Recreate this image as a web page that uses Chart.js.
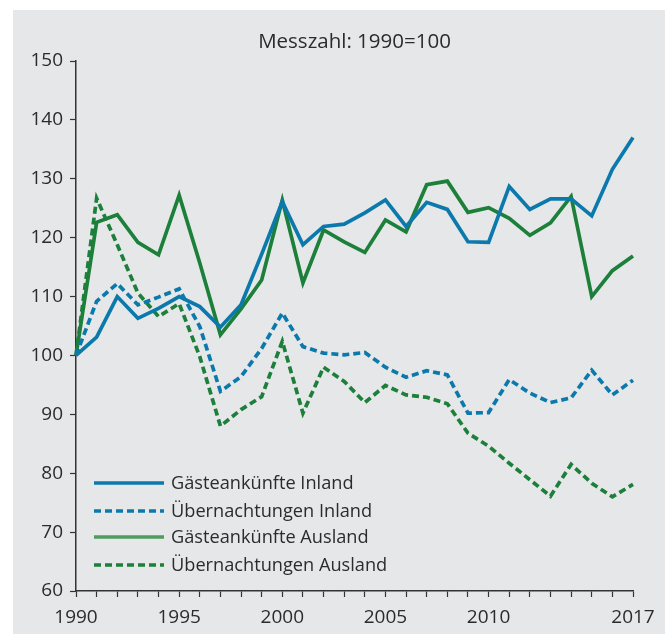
<!DOCTYPE html>
<html>
<head>
<meta charset="utf-8">
<style>
  html, body { margin: 0; padding: 0; background: #fff; }
  .wrap { position: relative; width: 665px; height: 634px; }
  .bg { position: absolute; left: 13px; top: 10px; right: 0; bottom: 0; background: #e6e7e9; }
  canvas { position: absolute; left: 0; top: 0; }
</style>
</head>
<body>
<div class="wrap">
  <div class="bg"></div>
  <canvas id="chart" width="665" height="634"></canvas>
</div>
<script src="https://cdn.jsdelivr.net/npm/chart.js@4/dist/chart.umd.min.js"></script>
<script>
const years = [1990, 1991, 1992, 1993, 1994, 1995, 1996, 1997, 1998, 1999,
  2000, 2001, 2002, 2003, 2004, 2005, 2006, 2007, 2008, 2009,
  2010, 2011, 2012, 2013, 2014, 2015, 2016, 2017];
const shownYears = [1990, 1995, 2000, 2005, 2010, 2017];
const titleText = 'Messzahl: 1990=100';

const ankuenfteInland = [100, 103.1, 110.0, 106.3, 108.0, 110.0, 108.3, 104.8, 108.6, 117.2,
  126.1, 118.8, 121.9, 122.3, 124.2, 126.4, 121.9, 126.0, 124.8, 119.3,
  119.2, 128.7, 124.8, 126.6, 126.6, 123.7, 131.6, 137.0];
const uebernachtungenInland = [100, 109.2, 112.2, 108.6, 109.9, 111.3, 104.9, 93.9, 96.4, 101.2,
  107.2, 101.5, 100.4, 100.1, 100.5, 98.0, 96.3, 97.4, 96.7, 90.2,
  90.3, 95.9, 93.6, 92.0, 92.8, 97.5, 93.3, 95.8];
const ankuenfteAusland = [100, 122.6, 123.9, 119.2, 117.1, 127.2, 115.7, 103.5, 107.9, 112.8,
  126.4, 112.3, 121.3, 119.3, 117.5, 123.0, 121.0, 129.0, 129.6, 124.3,
  125.1, 123.3, 120.4, 122.5, 127.0, 110.0, 114.4, 116.9];
const uebernachtungenAusland = [100, 126.7, 118.8, 110.6, 106.6, 108.8, 99.8, 88.0, 90.8, 93.0,
  102.4, 90.2, 98.0, 95.6, 92.0, 94.9, 93.3, 92.9, 91.8, 86.8,
  84.6, 81.7, 78.9, 76.1, 81.5, 78.3, 76.0, 78.1];

const blue = '#0b79ab';
const green = '#1c7f3a';
const dash = [7, 4];
const fontFamily = '"Open Sans", "Noto Sans", sans-serif';
const textColor = '#2b2b2b';
const axisColor = '#333333';

function line(label, data, color, dashed, legendColor) {
  return {
    label: label,
    data: data,
    borderColor: color,
    backgroundColor: color,
    borderWidth: 3.7,
    borderDash: dashed ? dash : [],
    pointRadius: 0,
    tension: 0,
    fill: false,
    legendColor: legendColor || color
  };
}

// title centred over the plot, legend inside the plot lower left
const extras = {
  id: 'extras',
  afterDraw(chart) {
    const c = chart.ctx;
    const area = chart.chartArea;
    c.save();
    c.fillStyle = textColor;
    c.font = '20.5px ' + fontFamily;
    c.textAlign = 'center';
    c.textBaseline = 'middle';
    c.fillText(titleText, (area.left + area.right) / 2, 42);

    const rows = [108, 80, 54, 26];
    chart.data.datasets.forEach((ds, i) => {
      const y = area.bottom - rows[i];
      c.beginPath();
      c.setLineDash(ds.borderDash);
      c.lineWidth = 3.7;
      c.strokeStyle = ds.legendColor;
      c.moveTo(area.left + 18, y);
      c.lineTo(area.left + 88, y);
      c.stroke();
      c.setLineDash([]);
      c.fillStyle = textColor;
      c.font = '18.2px ' + fontFamily;
      c.textBaseline = 'middle';
      c.textAlign = 'left';
      c.fillText(ds.label, area.left + 95, y + 1);
    });
    c.restore();
  }
};

new Chart(document.getElementById('chart'), {
  type: 'line',
  data: {
    labels: years,
    datasets: [
      line('Gästeankünfte Inland', ankuenfteInland, blue, false),
      line('Übernachtungen Inland', uebernachtungenInland, blue, true),
      line('Gästeankünfte Ausland', ankuenfteAusland, green, false, '#4f9d5c'),
      line('Übernachtungen Ausland', uebernachtungenAusland, green, true)
    ]
  },
  options: {
    responsive: false,
    animation: false,
    layout: { padding: { left: 0, right: 32, top: 61, bottom: 0 } },
    plugins: {
      legend: { display: false },
      tooltip: { enabled: false },
      title: { display: false }
    },
    scales: {
      x: {
        type: 'category',
        offset: false,
        afterFit(scale) { scale.height = 43; },
        border: { display: true, color: axisColor, width: 1.5 },
        grid: { drawOnChartArea: false, drawTicks: true, tickLength: 6, color: axisColor, tickWidth: 1.2 },
        ticks: {
          autoSkip: false,
          maxRotation: 0,
          padding: 9,
          color: textColor,
          font: { family: fontFamily, size: 19 },
          callback(value) {
            const yr = years[value];
            return shownYears.includes(yr) ? String(yr) : '';
          }
        }
      },
      y: {
        min: 60,
        max: 150,
        afterFit(scale) { scale.width = 76; },
        border: { display: true, color: axisColor, width: 1.5 },
        grid: { drawOnChartArea: false, drawTicks: true, tickLength: 6, color: axisColor, tickWidth: 1.2 },
        ticks: {
          stepSize: 10,
          padding: 7,
          color: textColor,
          font: { family: fontFamily, size: 19 }
        }
      }
    }
  },
  plugins: [extras]
});
</script>
</body>
</html>
